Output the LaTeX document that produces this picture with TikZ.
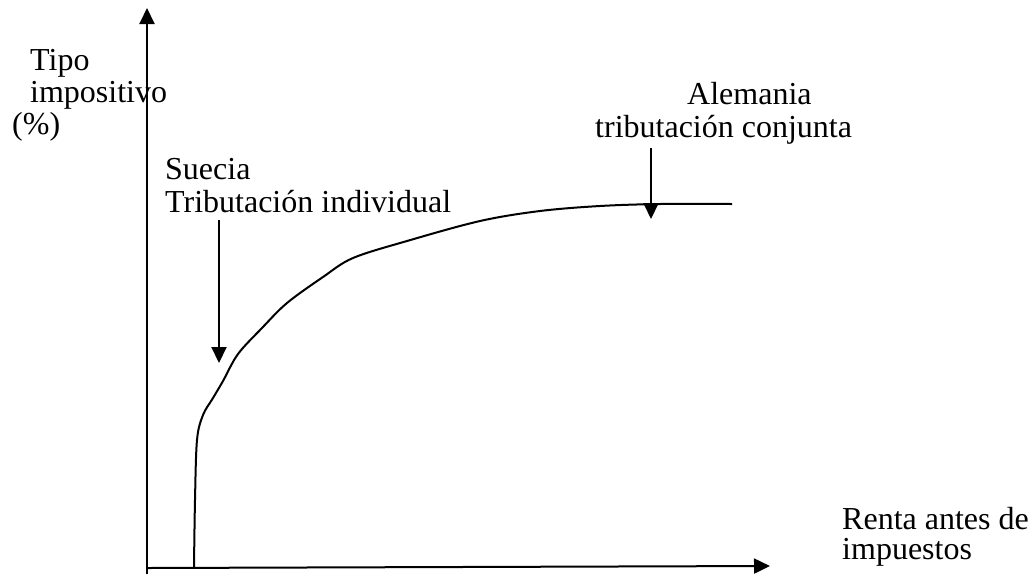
\documentclass[tikz,border=0pt]{standalone}
\usepackage{fontspec}
\setmainfont{Liberation Serif}
\usetikzlibrary{arrows.meta}
\begin{document}
\begin{tikzpicture}[x=1pt,y=-1pt,
  axis/.style={line width=2pt,-{Triangle[width=15pt,length=16pt]}},
  pointer/.style={line width=2pt,-{Triangle[width=15pt,length=16pt]}},
  curve/.style={line width=2pt},
  lbl/.style={font=\fontsize{32}{36}\selectfont,inner sep=0pt,anchor=base west}]
\useasboundingbox (0,0) rectangle (1032,574);
% axes
\coordinate (O) at (147,568);
\coordinate (Ytop) at (147,8);
\coordinate (Xend) at (770,566);
\draw[axis] (147,574) -- (Ytop);
\draw[axis] (O) -- (Xend);
% curve
\draw[curve] plot[smooth,tension=0.55] coordinates {(194,567) (195,500) (197,440) (203,415) (213,398) (223,381) (238,354) (262,328) (287,303) (323,277) (353,258) (407,241) (480,221) (540,211) (600,206) (660,204) (732,204)};
% labels
\node[lbl] (t1) at (30,70) {Tipo};
\node[lbl] (t2) at (30,102) {impositivo};
\node[lbl] (t3) at (12,134) {(\%)};
\node[lbl] (s1) at (165,179) {Suecia};
\node[lbl] (s2) at (165,212) {Tributación individual};
\node[lbl] (a1) at (687,104) {Alemania};
\node[lbl] (a2) at (595,137) {tributación conjunta};
\node[lbl] (r1) at (842,529) {Renta antes de};
\node[lbl] (r2) at (842,559) {impuestos};
% pointers
\coordinate (sA) at (219,220);
\coordinate (sB) at (219,363);
\coordinate (aA) at (651,148);
\coordinate (aB) at (651,219);
\draw[pointer] (sA) -- (sB);
\draw[pointer] (aA) -- (aB);
\end{tikzpicture}
\end{document}
